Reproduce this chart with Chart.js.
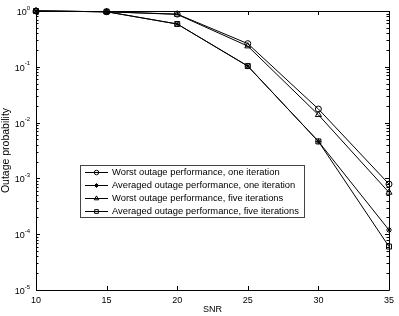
<!DOCTYPE html>
<html>
<head>
<meta charset="utf-8">
<script src="https://cdn.jsdelivr.net/npm/chart.js@4.4.0/dist/chart.umd.min.js"></script>
<style>
  html, body { margin: 0; padding: 0; background: #fff; }
  #wrap { width: 399px; height: 316px; }
</style>
</head>
<body>
<div id="wrap"><canvas id="chart" width="399" height="316"></canvas></div>
<script>
// data
const snr = [10, 15, 20, 25, 30, 35];
const worstOne = [1, 0.97, 0.88, 0.26, 0.0175, 0.00079];
const avgOne = [1, 0.97, 0.585, 0.103, 0.0046, 0.000119];
const worstFive = [1, 0.97, 0.87, 0.235, 0.0138, 0.00056];
const avgFive = [1, 0.97, 0.585, 0.103, 0.0046, 0.00006];

const seriesLabels = [
    'Worst outage performance, one iteration',
    'Averaged outage performance, one iteration',
    'Worst outage performance, five iterations',
    'Averaged outage performance, five iterations'
];
const xTicks = [10, 15, 20, 25, 30, 35];
const yPowers = [0, -1, -2, -3, -4, -5];

const FONT = "'Liberation Sans', Arial, sans-serif";

function series(label, data, style, radius) {
    return {
        label: label,
        data: data,
        borderColor: '#000',
        backgroundColor: 'rgba(0,0,0,0)',
        borderWidth: 1,
        pointStyle: style,
        pointRadius: radius,
        pointBorderColor: '#000',
        pointBackgroundColor: 'rgba(0,0,0,0)',
        pointBorderWidth: 1,
        tension: 0,
        fill: false,
        clip: false
    };
}

// box, inward ticks, superscript tick labels and the legend
const axesPlugin = {
    id: 'matlabAxes',
    afterDraw(chart) {
        const ctx = chart.ctx;
        const area = chart.chartArea;
        const xs = chart.scales.x;
        const ys = chart.scales.y;
        ctx.save();
        ctx.strokeStyle = '#000';
        ctx.lineWidth = 1;
        ctx.beginPath();
        ctx.rect(Math.round(area.left) + 0.5, Math.round(area.top) + 0.5,
                 Math.round(area.right - area.left), Math.round(area.bottom - area.top));
        ctx.stroke();

        // x ticks, top and bottom
        ctx.beginPath();
        xTicks.forEach(v => {
            const px = Math.round(xs.getPixelForValue(v)) + 0.5;
            ctx.moveTo(px, area.bottom); ctx.lineTo(px, area.bottom - 4);
            ctx.moveTo(px, area.top); ctx.lineTo(px, area.top + 4);
        });
        // y ticks, major and minor, left and right
        yPowers.forEach(p => {
            const base = Math.pow(10, p);
            const py = Math.round(ys.getPixelForValue(base)) + 0.5;
            ctx.moveTo(area.left, py); ctx.lineTo(area.left + 4, py);
            ctx.moveTo(area.right, py); ctx.lineTo(area.right - 4, py);
            if (p < 0) {
                for (let m = 2; m <= 9; m++) {
                    const my = Math.round(ys.getPixelForValue(m * base)) + 0.5;
                    ctx.moveTo(area.left, my); ctx.lineTo(area.left + 2.5, my);
                    ctx.moveTo(area.right, my); ctx.lineTo(area.right - 2.5, my);
                }
            }
        });
        ctx.stroke();

        // y tick labels as 10 with a raised exponent
        ctx.fillStyle = '#000';
        ctx.textBaseline = 'middle';
        ctx.textAlign = 'left';
        yPowers.forEach(p => {
            const py = ys.getPixelForValue(Math.pow(10, p));
            const exp = p === 0 ? '0' : '-' + Math.abs(p);
            ctx.font = '6px ' + FONT;
            const ew = ctx.measureText(exp).width;
            ctx.font = '9px ' + FONT;
            const bw = ctx.measureText('10').width;
            const right = area.left - 6;
            ctx.fillText('10', right - ew - bw, py + 1.5);
            ctx.font = '6px ' + FONT;
            ctx.fillText(exp, right - ew, py - 3);
        });

        // legend inside the axes
        const lx = 80, ly = 165, rowH = 12.8;
        ctx.font = '9.4px ' + FONT;
        let tw = 0;
        chart.data.datasets.forEach(ds => { tw = Math.max(tw, ctx.measureText(ds.label).width); });
        const lw = 32 + tw + 5;
        const lh = rowH * chart.data.datasets.length + 1;
        ctx.fillStyle = '#fff';
        ctx.fillRect(lx, ly, lw, lh);
        ctx.strokeStyle = '#444';
        ctx.strokeRect(lx + 0.5, ly + 0.5, Math.round(lw), Math.round(lh));
        chart.data.datasets.forEach((ds, i) => {
            const cy = Math.round(ly + 1 + rowH * (i + 0.5)) + 0.5;
            ctx.strokeStyle = '#000';
            ctx.lineWidth = 1;
            ctx.beginPath();
            ctx.moveTo(lx + 5, cy); ctx.lineTo(lx + 28, cy);
            ctx.stroke();
            ctx.fillStyle = 'rgba(0,0,0,0)';
            Chart.helpers.drawPoint(ctx, {
                pointStyle: ds.pointStyle,
                radius: ds.pointRadius * 0.75,
                borderWidth: 1
            }, lx + 16.5, cy);
            ctx.fillStyle = '#000';
            ctx.textBaseline = 'middle';
            ctx.fillText(ds.label, lx + 32, cy);
        });
        ctx.restore();
    }
};

const chart = new Chart(document.getElementById('chart').getContext('2d'), {
    type: 'line',
    data: {
        labels: snr,
        datasets: [
            series(seriesLabels[0], worstOne, 'circle', 3),
            series(seriesLabels[1], avgOne, 'star', 3),
            series(seriesLabels[2], worstFive, 'triangle', 3.5),
            series(seriesLabels[3], avgFive, 'rect', 3.5)
        ]
    },
    options: {
        responsive: false,
        animation: false,
        devicePixelRatio: 1,
        layout: { padding: { top: 11, right: 8, left: 0, bottom: 0 } },
        plugins: {
            legend: { display: false },
            tooltip: { enabled: false }
        },
        scales: {
            x: {
                type: 'linear',
                min: 10,
                max: 35,
                grid: { display: false, drawTicks: false },
                border: { display: false },
                ticks: {
                    stepSize: 5,
                    color: '#000',
                    padding: 5,
                    font: { family: FONT, size: 9 }
                },
                title: {
                    display: true,
                    text: 'SNR',
                    color: '#000',
                    padding: { top: 0, bottom: 1 },
                    font: { family: FONT, size: 9 }
                },
                afterFit(scale) { scale.height = 26; }
            },
            y: {
                type: 'logarithmic',
                min: 1e-5,
                max: 1,
                grid: { display: false, drawTicks: false },
                border: { display: false },
                ticks: { display: false },
                title: {
                    display: true,
                    text: 'Outage probability',
                    color: '#000',
                    padding: { top: 0, bottom: 2 },
                    font: { family: FONT, size: 10.5 }
                },
                afterFit(scale) { scale.width = 36; }
            }
        }
    },
    plugins: [axesPlugin]
});
</script>
</body>
</html>
